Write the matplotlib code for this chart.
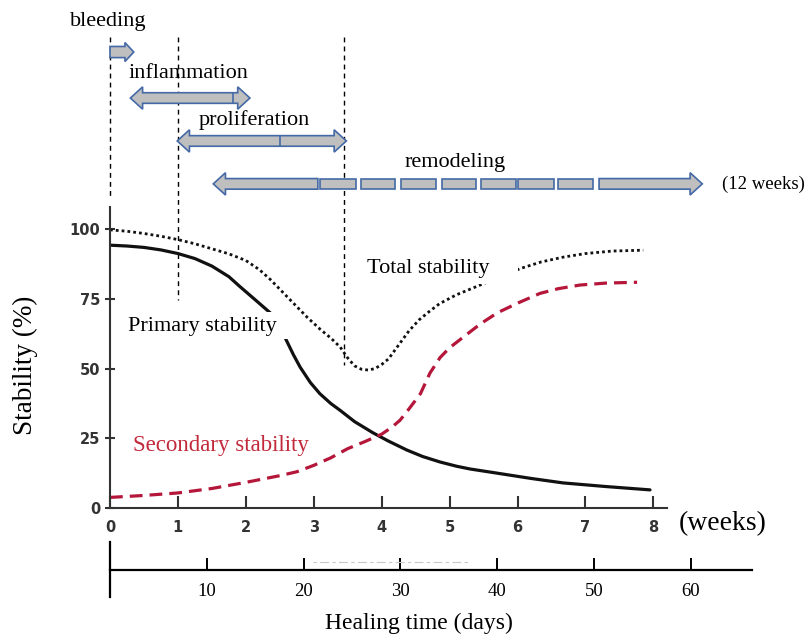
import matplotlib
matplotlib.use('Agg')
import matplotlib.pyplot as plt
from matplotlib.patches import Polygon, Rectangle

plt.rcParams['font.family'] = ['Liberation Serif', 'DejaVu Serif']

# stability curves (weeks, %)
primary_w = [0, 0.25, 0.5, 0.75, 1, 1.25, 1.5, 1.75, 1.91, 2.1, 2.36, 2.58, 2.7,
             2.8, 2.95, 3.09, 3.25, 3.39, 3.6, 3.87, 4.1, 4.37, 4.6, 4.86, 5.1,
             5.3, 5.7, 6.2, 6.67, 7.3, 7.95]
primary_v = [94.3, 94.0, 93.5, 92.6, 91.3, 89.5, 86.8, 83.0, 79.5, 75.5, 70, 61, 55,
             50.5, 45, 41, 37.5, 35, 31, 27, 24, 20.8, 18.5, 16.5, 15,
             14, 12.5, 10.6, 9, 7.7, 6.5]

total_w = [0, 0.25, 0.5, 0.75, 1, 1.25, 1.5, 1.75, 2, 2.2, 2.36, 2.5, 2.7, 2.9,
           3.1, 3.25, 3.39, 3.5, 3.6, 3.7, 3.8, 3.9, 4.0, 4.1, 4.25, 4.4, 4.55,
           4.7, 4.85, 5.1, 5.35, 5.6, 5.85, 6.05, 6.35, 6.67, 7, 7.4, 7.85]
total_v = [99.8, 99.3, 98.5, 97.5, 96.3, 94.8, 93, 91.2, 88.8, 85.5, 82, 78.5, 73.5,
           68.5, 64, 61, 57.7, 53.8, 51, 49.8, 49.5, 50, 51.5, 53.5, 58.5, 63.5,
           67.5, 70.5, 73.3, 76.5, 79, 81.5, 84, 86, 88.3, 90, 91.3, 92.2, 92.5]

secondary_w = [0, 0.5, 1, 1.5, 2, 2.5, 2.75, 3, 3.25, 3.5, 3.75, 4, 4.15, 4.27,
               4.4, 4.57, 4.71, 4.86, 5.0, 5.2, 5.45, 5.7, 6.0, 6.33, 6.6, 6.92,
               7.3, 7.76]
secondary_v = [3.8, 4.5, 5.4, 7, 9.2, 11.6, 13, 15.3, 18, 21.3, 23.8, 26.5, 29, 31.5,
               35.5, 41, 48.4, 54, 57.5, 61.3, 66, 70, 73.5, 77, 78.7, 80,
               80.7, 81]

# healing phases (weeks)
phase_names = ['bleeding', 'inflammation', 'proliferation', 'remodeling']
phase_start = [0.0, 0.30, 0.99, 1.52]
phase_end = [0.35, 2.06, 3.48, 8.72]
phase_split = [None, 1.81, 2.5, None]
remodel_pieces = [(1.52, 3.06), (3.09, 3.62), (3.70, 4.20), (4.28, 4.80),
                  (4.89, 5.39), (5.46, 5.98), (6.01, 6.54), (6.60, 7.11),
                  (7.20, 8.72)]
phase_marks = [0, 1, 3.45]

week_ticks = [0, 1, 2, 3, 4, 5, 6, 7, 8]
stab_ticks = [0, 25, 50, 75, 100]
day_ticks = [10, 20, 30, 40, 50, 60]

fill_c = '#bfbfbf'
edge_c = '#4469a6'
red = '#b5173b'

fig = plt.figure(figsize=(8.11, 6.39), dpi=100)
ax = fig.add_axes([110 / 811, 1 - 508 / 639, 557 / 811, 301 / 639])
ax.set_xlim(0, 8.2)
ax.set_ylim(0, 108)

ax.plot(primary_w, primary_v, color='#111111', lw=2.3, solid_capstyle='round', zorder=2)
ax.plot(total_w, total_v, color='#111111', lw=2.0, linestyle=(0, (1, 1.1)), zorder=2)
ax.plot(secondary_w, secondary_v, color=red, lw=2.3, linestyle=(0, (4, 2.2)), zorder=2)

# white masks behind curve labels
ax.add_patch(Rectangle((3.71, 80.4), 2.3, 10.4, fc='white', ec='none', zorder=3, clip_on=False))
ax.add_patch(Rectangle((0.2, 60.5), 2.45, 10.0, fc='white', ec='none', zorder=3, clip_on=False))
ax.text(1.36, 65.3, 'Primary stability', fontsize=16, ha='center', va='center', zorder=4)
ax.text(4.69, 86.1, 'Total stability', fontsize=16, ha='center', va='center', zorder=4)
ax.text(1.64, 22.5, 'Secondary stability', fontsize=16.5, color='#c22a3c',
        ha='center', va='center', zorder=4)

# phase boundary lines
mark_bottom = [112, 74.6, 51.3]
for xm, yb in zip(phase_marks, mark_bottom):
    ax.plot([xm, xm], [169, yb], color='black', lw=1.0, linestyle=(0, (3.5, 3)),
            clip_on=False, zorder=1)


def arrow_pts(x0, x1, y, body, head, hl, left, right):
    pts = []
    if left:
        pts += [(x0 + hl, y - head), (x0, y), (x0 + hl, y + head), (x0 + hl, y + body)]
    else:
        pts += [(x0, y - body), (x0, y + body)]
    if right:
        pts += [(x1 - hl, y + body), (x1 - hl, y + head), (x1, y), (x1 - hl, y - head),
                (x1 - hl, y - body)]
    else:
        pts += [(x1, y + body), (x1, y - body)]
    if left:
        pts += [(x0 + hl, y - body)]
    return pts


def draw_arrow(x0, x1, y, left, right, body=1.9, head=4.0, hl=0.18):
    poly = Polygon(arrow_pts(x0, x1, y, body, head, hl, left, right), closed=True,
                   fc=fill_c, ec=edge_c, lw=1.2, clip_on=False, zorder=2)
    ax.add_patch(poly)


row_y = [163.6, 147.1, 131.7, 116.3]
text_y = [174.7, 156.0, 139.2, 124.1]
text_x = [-0.03, 1.16, 2.13, 5.08]

draw_arrow(phase_start[0], phase_end[0], row_y[0], False, True, body=2.0, head=3.4, hl=0.13)
for i in (1, 2):
    draw_arrow(phase_start[i], phase_end[i], row_y[i], True, True)
    ax.plot([phase_split[i]] * 2, [row_y[i] - 1.9, row_y[i] + 1.9], color=edge_c,
            lw=1.2, clip_on=False, zorder=3)
for k, (a, b) in enumerate(remodel_pieces):
    draw_arrow(a, b, row_y[3], k == 0, k == len(remodel_pieces) - 1)

for name, tx, ty in zip(phase_names, text_x, text_y):
    ax.text(tx, ty, name, fontsize=16, ha='center', va='center', clip_on=False)
ax.text(9.01, row_y[3], '(12 weeks)', fontsize=13.5, ha='left', va='center')

# week axis styling
for s in ('top', 'right'):
    ax.spines[s].set_visible(False)
for s in ('left', 'bottom'):
    ax.spines[s].set_linewidth(1.5)
    ax.spines[s].set_color('#333333')
ax.set_xticks(week_ticks)
ax.set_yticks(stab_ticks)
ax.tick_params(axis='x', direction='in', length=8.5, width=1.5, pad=9, colors='#333333')
ax.tick_params(axis='y', direction='inout', length=7, width=1.5, pad=3.5, colors='#333333')
for lab in ax.get_xticklabels() + ax.get_yticklabels():
    lab.set_fontfamily('DejaVu Sans')
    lab.set_fontweight('bold')
    lab.set_fontsize(10.5)
ax.text(8.37, -5.7, '(weeks)', fontsize=20, ha='left', va='center', clip_on=False)

# day axis
ax2 = fig.add_axes([110 / 811, 1 - 597 / 639, 642 / 811, 55 / 639])
ax2.set_xlim(0, 66.3)
ax2.set_ylim(-27, 28)
ax2.patch.set_visible(False)
for s in ('top', 'right'):
    ax2.spines[s].set_visible(False)
ax2.spines['bottom'].set_position(('data', 0))
ax2.spines['bottom'].set_linewidth(1.6)
ax2.spines['left'].set_linewidth(1.6)
ax2.set_xticks(day_ticks)
ax2.set_yticks([])
ax2.tick_params(axis='x', direction='in', length=8.5, width=1.4, pad=9, labelsize=13.5)
ax2.plot([21, 37], [8, 8], color='#c8c8c8', lw=0.8, linestyle=(0, (3, 3, 8, 3)))

fig.text(25 / 811, 1 - 365 / 639, 'Stability (%)', fontsize=19.5, rotation=90,
         ha='center', va='center')
fig.text(418.5 / 811, 1 - 623 / 639, 'Healing time (days)', fontsize=17,
         ha='center', va='center')

fig.savefig('out.png', dpi=100)
